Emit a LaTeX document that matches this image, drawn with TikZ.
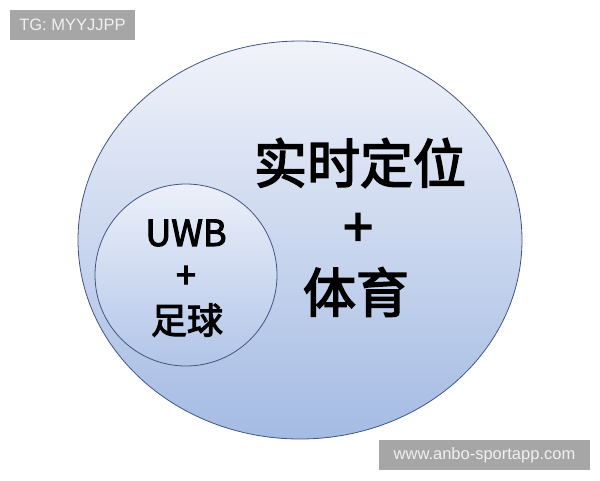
\documentclass[tikz,border=0pt]{standalone}
\usepackage{fontspec}
\setmainfont{Liberation Sans}
\newfontfamily\cjk{Noto Sans CJK SC}[FakeBold=3]
\definecolor{ringtop}{RGB}{241,243,250}
\definecolor{ringbot}{RGB}{164,187,227}
\definecolor{dottop}{RGB}{236,240,249}
\definecolor{dotbot}{RGB}{178,197,232}
\definecolor{ringline}{RGB}{66,84,130}
\definecolor{tagfill}{RGB}{166,166,166}
\tikzset{
  bigtxt/.style={inner sep=0pt,font=\cjk\fontsize{53}{53}\selectfont},
  smalltxt/.style={inner sep=0pt,font=\cjk\fontsize{36}{36}\selectfont},
  tagbox/.style={fill=tagfill,text=white!94!black,inner sep=0pt,font=\fontsize{16.5}{16.5}\selectfont}
}

\begin{document}
\begin{tikzpicture}[x=1pt,y=-1pt]
      \useasboundingbox(0,0)rectangle(600,480);
      \coordinate(O)at(300,240);\coordinate(P)at(186,275);
      \shade[top color=ringtop,bottom color=ringbot,draw=ringline,line width=0.8pt](O)ellipse[x radius=222,y radius=199];
      \shade[top color=dottop,bottom color=dotbot,draw=ringline,line width=0.8pt](P)circle[radius=91];
      \node[bigtxt](rt)at(360,163){实时定位};
      \node[bigtxt](rp)at(358,230){+};
      \node[bigtxt](ty)at(356,292){体育};
      \node[smalltxt](uwb)at(186,233){UWB};
      \node[smalltxt](sp)at(186,277){+};
      \node[smalltxt](zq)at(187,320){足球};
      \node[tagbox,minimum width=125pt,minimum height=30pt](tg)at(72.5,25){TG: MYYJJPP};
      \node[tagbox,minimum width=211pt,minimum height=30pt](www)at(484.5,455){www.anbo-sportapp.com};
    \end{tikzpicture}
\end{document}
